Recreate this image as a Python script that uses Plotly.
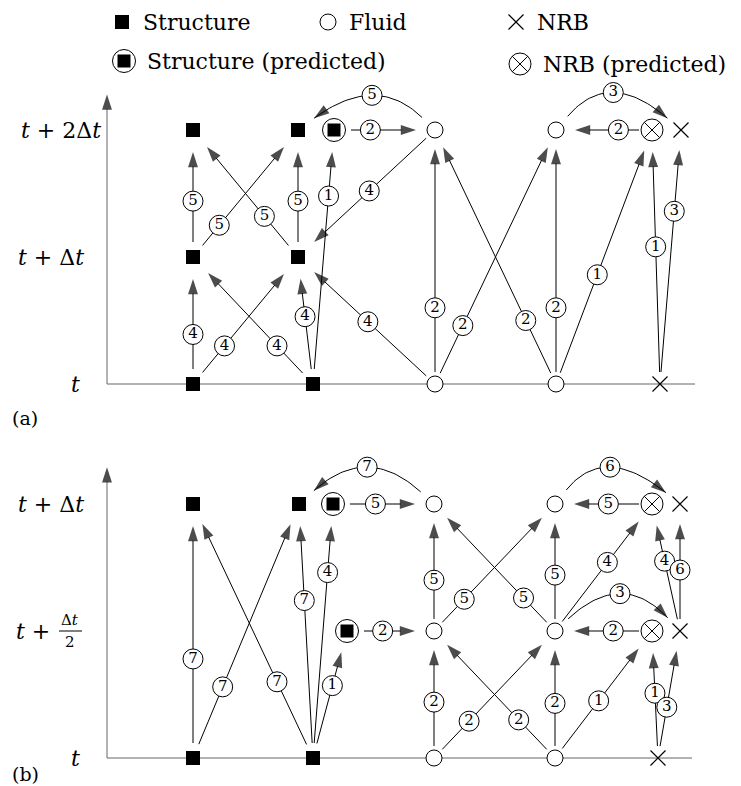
import math
import plotly.graph_objects as go

W, H = 741, 786
FONT = "DejaVu Serif"

# ---------------- data ----------------
legend_names = ["Structure", "Fluid", "NRB", "Structure (predicted)", "NRB (predicted)"]
legend_kinds = ["S", "F", "N", "SP", "NP"]

# panel (a): node id -> (kind, column, time level in Δt)
a_ids    = ["S1_0", "S2_0", "F1_0", "F2_0", "N_0", "S1_1", "S2_1",
            "S1_2", "S2_2", "SP_2", "F1_2", "F2_2", "NP_2", "N_2"]
a_kinds  = ["S", "S", "F", "F", "N", "S", "S",
            "S", "S", "SP", "F", "F", "NP", "N"]
a_cols   = [193, 313, 435, 556, 660, 193, 298,
            193, 298, 334, 435, 556, 652, 681]
a_levels = [0, 0, 0, 0, 0, 1, 1,
            2, 2, 2, 2, 2, 2, 2]
a_ticks  = ["<i>t</i>", "<i>t</i> + Δ<i>t</i>", "<i>t</i> + 2Δ<i>t</i>"]
a_tick_levels = [0, 1, 2]

# edges: (from, to, step label, label position along edge)
a_edges = [
    ("S1_0", "S1_1", "4", 0.39), ("S1_0", "S2_1", "4", 0.30),
    ("S2_0", "S1_1", "4", 0.30), ("S2_0", "S2_1", "4", 0.53),
    ("F1_0", "S2_1", "4", 0.49),
    ("S1_1", "S1_2", "5", 0.44), ("S1_1", "S2_2", "5", 0.25),
    ("S2_1", "S1_2", "5", 0.32), ("S2_1", "S2_2", "5", 0.44),
    ("S2_0", "SP_2", "1", 0.74), ("F1_2", "S2_1", "4", 0.48),
    ("SP_2", "F1_2", "2", 0.36),
    ("F1_0", "F1_2", "2", 0.30), ("F1_0", "F2_2", "2", 0.23),
    ("F2_0", "F1_2", "2", 0.25), ("F2_0", "F2_2", "2", 0.30),
    ("F2_0", "NP_2", "1", 0.43), ("N_0", "NP_2", "1", 0.54),
    ("N_0", "N_2", "3", 0.68), ("NP_2", "F2_2", "2", 0.35),
]
# curved edges: (from, to, label, control column, control level)
a_arcs = [("F1_2", "S2_2", "5", 376, 2.45), ("F2_2", "N_2", "3", 609, 2.49)]

# panel (b)
b_ids    = ["S1_0", "S2_0", "F1_0", "F2_0", "N_0",
            "SPm", "F1m", "F2m", "NPm", "Nm",
            "S1_1", "S2_1", "SP_1", "F1_1", "F2_1", "NP_1", "N_1"]
b_kinds  = ["S", "S", "F", "F", "N",
            "SP", "F", "F", "NP", "N",
            "S", "S", "SP", "F", "F", "NP", "N"]
b_cols   = [193, 313, 434, 555, 658,
            347, 434, 555, 652, 680,
            193, 299, 333, 434, 555, 652, 680]
b_levels = [0, 0, 0, 0, 0,
            0.5, 0.5, 0.5, 0.5, 0.5,
            1, 1, 1, 1, 1, 1, 1]
b_ticks  = ["<i>t</i>", "<i>t</i> + Δ<i>t</i>"]
b_tick_levels = [0, 1]

b_edges = [
    ("S1_0", "S1_1", "7", 0.39), ("S1_0", "S2_1", "7", 0.28),
    ("S2_0", "S1_1", "7", 0.30), ("S2_0", "S2_1", "7", 0.62),
    ("S2_0", "SP_1", "4", 0.73), ("S2_0", "SPm", "1", 0.57),
    ("SPm", "F1m", "2", 0.41), ("SP_1", "F1_1", "5", 0.42),
    ("F1_0", "F1m", "2", 0.44), ("F1_0", "F2m", "2", 0.29),
    ("F2_0", "F1m", "2", 0.30), ("F2_0", "F2m", "2", 0.43),
    ("F2_0", "NPm", "1", 0.45), ("N_0", "NPm", "1", 0.51),
    ("N_0", "Nm", "3", 0.40), ("NPm", "F2m", "2", 0.40),
    ("F1m", "F1_1", "5", 0.40), ("F1m", "F2_1", "5", 0.25),
    ("F2m", "F1_1", "5", 0.26), ("F2m", "F2_1", "5", 0.44),
    ("F2m", "NP_1", "4", 0.54), ("Nm", "NP_1", "4", 0.55),
    ("Nm", "N_1", "6", 0.48), ("NP_1", "F2_1", "5", 0.45),
]
b_arcs = [("F1_1", "S2_1", "7", 367, 1.24), ("F2_1", "N_1", "6", 604, 1.24),
          ("F2m", "Nm", "3", 622, 0.744)]

# ---------------- layout of the two panels ----------------
PANEL = {
    "a": dict(base=384, ppl=127, yaxis="y", axis_top=2.28, x_end=695, tag="(a)", tag_y=418),
    "b": dict(base=758, ppl=254, yaxis="y2", axis_top=1.145, x_end=692, tag="(b)", tag_y=774),
}
AXIS_X = 107
START_GAP = {"S": 15, "F": 12, "N": 12, "SP": 17, "NP": 13}
END_GAP = {"S": 22, "F": 19, "N": 20, "SP": 22, "NP": 22}
ARROW = 16
traces_lines, traces_labels, traces_nodes = [], [], []
annotations = []


def to_px(p, x, lvl):
    return x, PANEL[p]["base"] - PANEL[p]["ppl"] * lvl


def to_lvl(p, x, ypx):
    return x, (PANEL[p]["base"] - ypx) / PANEL[p]["ppl"]


def arrow_trace(p, xs, ys, head=True, color="black", width=1):
    sizes = [0] * (len(xs) - 1) + [ARROW if head else 0]
    return go.Scatter(x=xs, y=ys, yaxis=PANEL[p]["yaxis"], mode="lines+markers",
                      line=dict(color=color, width=width),
                      marker=dict(symbol="arrow", size=sizes, angleref="previous",
                                  color="black", line=dict(width=0)),
                      hoverinfo="skip", showlegend=False, cliponaxis=False)


def node_traces(p, xs, ys, kind, ax):
    base = dict(x=xs, y=ys, yaxis=ax, mode="markers", hoverinfo="skip",
                showlegend=False, cliponaxis=False)
    if kind == "S":
        return [go.Scatter(marker=dict(symbol="square", size=14, color="black"), **base)]
    if kind == "F":
        return [go.Scatter(marker=dict(symbol="circle", size=16, color="white",
                                       line=dict(color="black", width=1)), **base)]
    if kind == "N":
        return [go.Scatter(marker=dict(symbol="x-thin-open", size=15, color="black",
                                       line=dict(color="black", width=1.2)), **base)]
    if kind == "SP":
        return [go.Scatter(marker=dict(symbol="circle", size=23, color="white",
                                       line=dict(color="black", width=1)), **base),
                go.Scatter(marker=dict(symbol="square", size=13, color="black"), **base)]
    if kind == "NP":
        return [go.Scatter(marker=dict(symbol="circle-x", size=22, color="white",
                                       line=dict(color="black", width=1)), **base)]


def build_panel(p, ids, kinds, cols, levels, edges, arcs, ticks, tick_levels):
    ax = PANEL[p]["yaxis"]
    nodes = {i: (k, c, l) for i, k, c, l in zip(ids, kinds, cols, levels)}
    lab_x, lab_y, lab_t = [], [], []
    for src, dst, lab, f in edges:
        ks, xs0, ls0 = nodes[src]
        kd, xd0, ld0 = nodes[dst]
        x0, y0 = to_px(p, xs0, ls0)
        x1, y1 = to_px(p, xd0, ld0)
        L = math.hypot(x1 - x0, y1 - y0)
        ux, uy = (x1 - x0) / L, (y1 - y0) / L
        g0, g1 = START_GAP[ks], END_GAP[kd]
        sx, sy = to_lvl(p, x0 + ux * g0, y0 + uy * g0)
        ex, ey = to_lvl(p, x1 - ux * g1, y1 - uy * g1)
        traces_lines.append(arrow_trace(p, [sx, ex], [sy, ey]))
        lab_x.append(xs0 + f * (xd0 - xs0))
        lab_y.append(ls0 + f * (ld0 - ls0))
        lab_t.append(lab)
    for src, dst, lab, cx, cl in arcs:
        ks, xs0, ls0 = nodes[src]
        kd, xd0, ld0 = nodes[dst]
        x0, y0 = to_px(p, xs0, ls0)
        x1, y1 = to_px(p, xd0, ld0)
        qx, qy = to_px(p, cx, cl)
        d0 = math.hypot(qx - x0, qy - y0)
        d1 = math.hypot(qx - x1, qy - y1)
        g0, g1 = START_GAP[ks] + 6, END_GAP[kd] - 2
        s = (x0 + (qx - x0) / d0 * g0, y0 + (qy - y0) / d0 * g0)
        e = (x1 + (qx - x1) / d1 * g1, y1 + (qy - y1) / d1 * g1)
        px, py = [], []
        n = 40
        for i in range(n + 1):
            t = i / n
            bx = (1 - t) ** 2 * s[0] + 2 * (1 - t) * t * qx + t ** 2 * e[0]
            by = (1 - t) ** 2 * s[1] + 2 * (1 - t) * t * qy + t ** 2 * e[1]
            xx, ll = to_lvl(p, bx, by)
            px.append(xx)
            py.append(ll)
        traces_lines.append(arrow_trace(p, px, py))
        lab_x.append(px[n // 2])
        lab_y.append(py[n // 2])
        lab_t.append(lab)
    traces_labels.append(go.Scatter(
        x=lab_x, y=lab_y, yaxis=ax, mode="markers+text", text=lab_t,
        textposition="middle center",
        textfont=dict(family=FONT, size=15, color="black"),
        marker=dict(symbol="circle", size=20, color="white", line=dict(color="black", width=1)),
        hoverinfo="skip", showlegend=False, cliponaxis=False))
    for kind in ["S", "F", "N", "SP", "NP"]:
        xs = [c for k, c in zip(kinds, cols) if k == kind]
        ys = [l for k, l in zip(kinds, levels) if k == kind]
        if xs:
            traces_nodes.extend(node_traces(p, xs, ys, kind, ax))
    # time axis (horizontal) and level axis (vertical, with arrow)
    traces_lines.append(go.Scatter(x=[AXIS_X, PANEL[p]["x_end"]], y=[0, 0], yaxis=ax,
                                   mode="lines", line=dict(color="#666", width=1),
                                   hoverinfo="skip", showlegend=False))
    traces_lines.append(arrow_trace(p, [AXIS_X, AXIS_X], [0, PANEL[p]["axis_top"]],
                                    color="#666", width=1))
    for txt, lv in zip(ticks, tick_levels):
        right = {0: 82}.get(lv, 86) if p == "b" or lv != 2 else 103
        annotations.append(dict(x=right, y=lv, xref="x", yref=ax, text=txt, showarrow=False,
                                xanchor="right", yanchor="middle",
                                font=dict(family=FONT, size=22, color="black")))
    annotations.append(dict(x=10, y=H - PANEL[p]["tag_y"], xref="x", yref="y3",
                            text=PANEL[p]["tag"], showarrow=False, xanchor="left",
                            yanchor="middle", font=dict(family=FONT, size=19, color="black")))


build_panel("a", a_ids, a_kinds, a_cols, a_levels, a_edges, a_arcs, a_ticks, a_tick_levels)
build_panel("b", b_ids, b_kinds, b_cols, b_levels, b_edges, b_arcs, b_ticks, b_tick_levels)

# fractional tick label t + Δt/2 in panel (b)
annotations += [
    dict(x=52, y=0.5, xref="x", yref="y2", text="<i>t</i> +", showarrow=False,
         xanchor="right", yanchor="middle", font=dict(family=FONT, size=22, color="black")),
    dict(x=70, y=0.5 + 11 / 254, xref="x", yref="y2", text="Δ<i>t</i>", showarrow=False,
         xanchor="center", yanchor="middle", font=dict(family=FONT, size=15, color="black")),
    dict(x=70, y=0.5 - 11 / 254, xref="x", yref="y2", text="2", showarrow=False,
         xanchor="center", yanchor="middle", font=dict(family=FONT, size=15, color="black")),
]
traces_lines.append(go.Scatter(x=[59, 82], y=[0.5, 0.5], yaxis="y2", mode="lines",
                               line=dict(color="black", width=1), hoverinfo="skip",
                               showlegend=False))

# ---------------- legend (drawn in page units on y3) ----------------
LEG_POS = {"S": (122, 22), "F": (328, 22), "N": (516, 22), "SP": (124, 61), "NP": (520, 64)}
leg_traces = []
for name, kind in zip(legend_names, legend_kinds):
    lx, ly = LEG_POS[kind]
    leg_traces.extend(node_traces("a", [lx], [H - ly], kind, "y3"))
    annotations.append(dict(x=lx + 19 if kind not in ("SP", "NP") else lx + 21, y=H - ly,
                            xref="x", yref="y3", text=name, showarrow=False,
                            xanchor="left", yanchor="middle",
                            font=dict(family=FONT, size=22, color="black")))

fig = go.Figure(traces_lines + traces_labels + traces_nodes + leg_traces)


def yr(p):
    return [(PANEL[p]["base"] - H) / PANEL[p]["ppl"], PANEL[p]["base"] / PANEL[p]["ppl"]]


hidden = dict(visible=False, showgrid=False, zeroline=False, fixedrange=True)
fig.update_layout(
    width=W, height=H, margin=dict(l=0, r=0, t=0, b=0),
    paper_bgcolor="white", plot_bgcolor="white", showlegend=False,
    xaxis=dict(range=[0, W], domain=[0, 1], **hidden),
    yaxis=dict(range=yr("a"), domain=[0, 1], **hidden),
    yaxis2=dict(range=yr("b"), domain=[0, 1], overlaying="y", **hidden),
    yaxis3=dict(range=[0, H], domain=[0, 1], overlaying="y", **hidden),
    annotations=annotations,
)
fig.write_html("out.html")
